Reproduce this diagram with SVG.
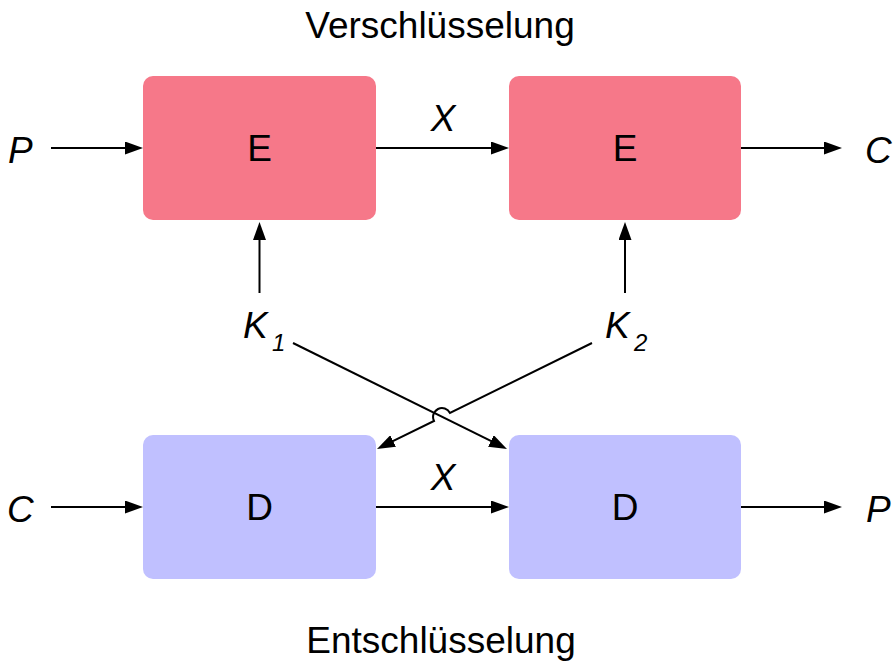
<svg xmlns="http://www.w3.org/2000/svg" width="894" height="664" viewBox="0 0 894 664">
<style>
text{font-family:"Liberation Sans",Arial,sans-serif;font-size:37px;fill:#000}
.c{text-anchor:middle}
.i{font-style:italic}
.sub{font-size:24px}
.enc{fill:#f67889}
.dec{fill:#c0c0ff}
.ln{fill:none;stroke:#000;stroke-width:2;marker-end:url(#ah)}
</style>
<defs>
<marker id="ah" markerUnits="userSpaceOnUse" viewBox="0 0 18 13" refX="14" refY="6.5" markerWidth="18" markerHeight="13" orient="auto">
<path d="M0,0 L18,6.5 L0,13 Z" fill="#000"/>
</marker>
</defs>
<rect width="894" height="664" fill="#fff"/>
<text class="c" x="440" y="38">Verschlüsselung</text>
<text class="c" x="441" y="653">Entschlüsselung</text>
<g id="E1"><rect class="enc" x="143" y="76" width="233" height="144" rx="10"/><text class="c" x="259.5" y="161">E</text></g>
<g id="E2"><rect class="enc" x="509" y="76" width="232" height="144" rx="10"/><text class="c" x="625" y="161">E</text></g>
<g id="D1"><rect class="dec" x="143" y="435" width="233" height="144" rx="10"/><text class="c" x="259.5" y="520">D</text></g>
<g id="D2"><rect class="dec" x="509" y="435" width="232" height="144" rx="10"/><text class="c" x="625" y="520">D</text></g>
<g id="labels">
<text class="i" x="8" y="163">P</text>
<text class="i" x="865" y="163">C</text>
<text class="i" x="7" y="522">C</text>
<text class="i" x="866" y="522">P</text>
<text class="i c" x="443" y="131">X</text>
<text class="i c" x="443" y="490">X</text>
<text class="i" x="243" y="338">K</text><text class="i sub" x="272" y="351">1</text>
<text class="i" x="605" y="338">K</text><text class="i sub" x="634" y="351">2</text>
</g>
<g id="connectors">
<path class="ln" d="M51,148 H139"/>
<path class="ln" d="M376,148 H505"/>
<path class="ln" d="M741,148 H838"/>
<path class="ln" d="M51,507 H139"/>
<path class="ln" d="M376,507 H505"/>
<path class="ln" d="M741,507 H838"/>
<path class="ln" d="M259.5,293 V226"/>
<path class="ln" d="M625,293 V226"/>
<path class="ln" d="M293,343 L503.4,447.2"/>
<path class="ln" d="M592,343 L450,413 A8.5,8.5 0 0 0 434,421 L380.6,447.2"/>
</g>
</svg>
